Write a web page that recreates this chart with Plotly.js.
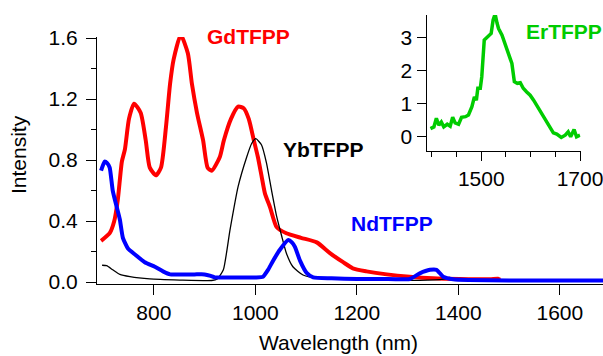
<!DOCTYPE html>
<html>
<head>
<meta charset="utf-8">
<script src="https://cdn.plot.ly/plotly-3.0.1.min.js"></script>
<style>html,body{margin:0;padding:0;background:#fff;}#chart{width:603px;height:356px;}</style>
</head>
<body>
<div id="chart"></div>
<script>
// GdTFPP (red)
const gdWavelength = [696,713,722,729,737,743,751,761,774,784,792,804,814,824,832,839,853,867,875,885,897,906,914,930,938,952,966,977,987,997,1005,1012,1019,1029,1042,1061,1090,1121,1147,1173,1192,1219,1259,1304,1350,1403,1462,1478,1482];
const gdIntensity  = [0.27,0.32,0.40,0.54,0.79,0.87,1.07,1.17,1.11,0.93,0.75,0.70,0.75,1.02,1.30,1.46,1.62,1.50,1.30,1.11,0.93,0.75,0.73,0.82,0.93,1.07,1.15,1.14,1.07,0.93,0.82,0.70,0.58,0.49,0.36,0.32,0.29,0.26,0.19,0.13,0.09,0.07,0.05,0.035,0.025,0.02,0.018,0.022,0.015];
// NdTFPP (blue)
const ndWavelength = [696,703,708,713,719,727,733,739,749,763,782,802,818,832,855,880,900,912,920,960,1000,1015,1025,1035,1048,1065,1072,1078,1088,1101,1114,1150,1200,1250,1304,1324,1344,1357,1370,1390,1420,1500,1600,1685];
const ndIntensity  = [0.73,0.79,0.78,0.75,0.60,0.49,0.41,0.29,0.22,0.18,0.13,0.10,0.07,0.05,0.05,0.05,0.05,0.04,0.03,0.03,0.03,0.035,0.08,0.14,0.21,0.275,0.26,0.23,0.14,0.06,0.03,0.025,0.02,0.02,0.02,0.057,0.08,0.08,0.035,0.018,0.013,0.01,0.01,0.01];
// YbTFPP (black)
const ybWavelength = [698,707,719,733,753,792,851,914,925,937,950,966,983,993,1001,1012,1022,1032,1042,1052,1061,1074,1094,1127,1200,1260,1340,1375,1382,1390,1403];
const ybIntensity  = [0.11,0.107,0.08,0.05,0.035,0.02,0.013,0.01,0.02,0.08,0.34,0.625,0.82,0.91,0.94,0.90,0.78,0.60,0.43,0.30,0.19,0.10,0.046,0.024,0.02,0.012,0.012,0.02,0.03,0.015,0.012];
// ErTFPP (green, inset)
const erWavelength = [1397,1404,1409,1414,1419,1424,1431,1437,1442,1447,1454,1460,1468,1474,1481,1486,1490,1493,1498,1501,1506,1513,1520,1524,1528,1532,1535,1542,1548,1555,1562,1567,1573,1579,1585,1592,1599,1606,1612,1619,1626,1633,1639,1646,1653,1662,1670,1676,1681,1688,1693,1700];
const erIntensity  = [0.25,0.30,0.56,0.35,0.45,0.30,0.38,0.32,0.59,0.42,0.38,0.59,0.61,0.66,0.91,1.21,1.11,1.47,1.47,1.82,2.93,3.03,3.13,3.54,3.72,3.44,3.28,3.08,2.83,2.53,2.22,1.67,1.62,1.64,1.47,1.36,1.26,1.11,0.96,0.76,0.61,0.41,0.25,0.12,0.08,-0.02,0.05,0.15,0.0,0.22,0.0,0.05];

const mainXTicks = [800,1000,1200,1400,1600];
const mainYTicks = [0,0.4,0.8,1.2,1.6];
const mainYTickText = ['0.0','0.4','0.8','1.2','1.6'];
const insetXTicks = [1500,1700];
const insetYTicks = [0,1,2,3];
const seriesNames = ['GdTFPP','YbTFPP','NdTFPP','ErTFPP'];

const FONT = 'Liberation Sans, Arial, Helvetica, sans-serif';
const W = 603, H = 356;
const px = v => v / W;
const py = v => 1 - v / H;

const traces = [
  {x: gdWavelength, y: gdIntensity, mode:'lines', line:{color:'#ff0000', width:4, shape:'spline', smoothing:0.6}, xaxis:'x', yaxis:'y', name:seriesNames[0]},
  {x: ybWavelength, y: ybIntensity, mode:'lines', line:{color:'#000000', width:1.3, shape:'spline', smoothing:0.5}, xaxis:'x', yaxis:'y', name:seriesNames[1]},
  {x: ndWavelength, y: ndIntensity, mode:'lines', line:{color:'#0000ff', width:4, shape:'spline', smoothing:0.5}, xaxis:'x', yaxis:'y', name:seriesNames[2]},
  {x: erWavelength, y: erIntensity, mode:'lines', line:{color:'#00cc00', width:3.5}, xaxis:'x2', yaxis:'y2', name:seriesNames[3], cliponaxis:false}
];

const axisCommon = {showline:true, linecolor:'#000', linewidth:1, ticks:'outside', tickcolor:'#000', tickwidth:1, showgrid:false, zeroline:false, ticklabeloverflow:'allow', tickfont:{family:FONT, size:21, color:'#000'}};

const layout = {
  width:W, height:H, margin:{l:0,r:0,t:0,b:0}, showlegend:false,
  paper_bgcolor:'#fff', plot_bgcolor:'rgba(0,0,0,0)',
  xaxis: Object.assign({}, axisCommon, {domain:[px(97),1], range:[688,1685], tickmode:'array', tickvals:mainXTicks, ticklen:10, anchor:'y'}),
  yaxis: Object.assign({}, axisCommon, {domain:[py(284),py(37)], range:[-0.013,1.607], tickmode:'array', tickvals:mainYTicks, ticktext:mainYTickText, ticklen:10, ticklabelstandoff:4, anchor:'x',
    minor:{dtick:0.2, tick0:0, ticklen:5, ticks:'outside', tickcolor:'#000', showgrid:false}}),
  xaxis2: Object.assign({}, axisCommon, {domain:[px(426.5),px(580.5)], range:[1389,1701], tickmode:'array', tickvals:insetXTicks, ticklen:9, anchor:'y2',
    minor:{dtick:50, tick0:1400, ticklen:5, ticks:'outside', tickcolor:'#000', showgrid:false}}),
  yaxis2: Object.assign({}, axisCommon, {domain:[py(151),py(15)], range:[-0.43,3.69], tickmode:'array', tickvals:insetYTicks, ticklen:9, anchor:'x2'}),
  annotations: [
    {text:'<b>GdTFPP</b>', x:px(248), y:py(37), xref:'paper', yref:'paper', showarrow:false, xanchor:'center', yanchor:'middle', font:{family:FONT, size:21, color:'#ff0000'}},
    {text:'<b>YbTFPP</b>', x:px(323), y:py(149), xref:'paper', yref:'paper', showarrow:false, xanchor:'center', yanchor:'middle', font:{family:FONT, size:21, color:'#000000'}},
    {text:'<b>NdTFPP</b>', x:px(392), y:py(223), xref:'paper', yref:'paper', showarrow:false, xanchor:'center', yanchor:'middle', font:{family:FONT, size:21, color:'#0000ff'}},
    {text:'<b>ErTFPP</b>', x:px(564), y:py(31), xref:'paper', yref:'paper', showarrow:false, xanchor:'center', yanchor:'middle', font:{family:FONT, size:21, color:'#00cc00'}},
    {text:'Wavelength (nm)', x:px(338), y:py(342), xref:'paper', yref:'paper', showarrow:false, xanchor:'center', yanchor:'middle', font:{family:FONT, size:21, color:'#000'}},
    {text:'Intensity', x:px(18), y:py(155), xref:'paper', yref:'paper', showarrow:false, xanchor:'center', yanchor:'middle', textangle:-90, font:{family:FONT, size:21, color:'#000'}}
  ]
};

Plotly.newPlot('chart', traces, layout, {staticPlot:true, displayModeBar:false});
</script>
</body>
</html>
